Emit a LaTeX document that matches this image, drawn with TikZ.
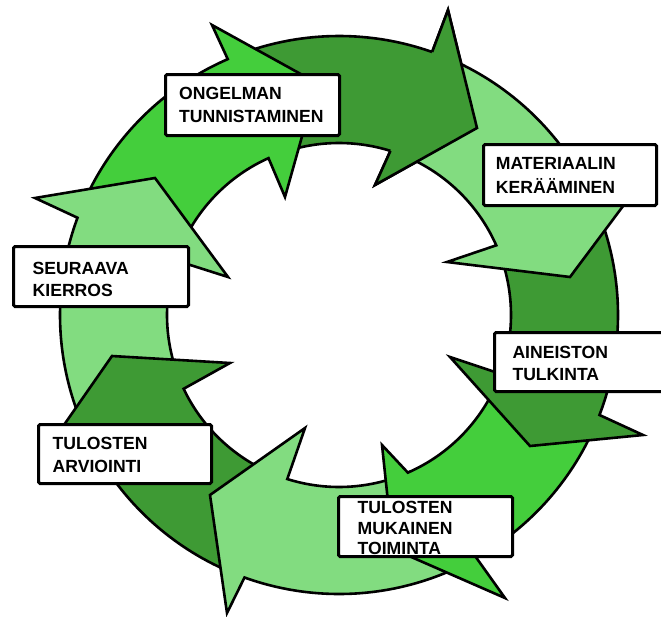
\documentclass[tikz,border=0pt]{standalone}
\usepackage{fontspec}
\setmainfont{Liberation Sans}
\usetikzlibrary{calc}
\definecolor{gbright}{RGB}{68,206,60}
\definecolor{gdark}{RGB}{62,154,52}
\definecolor{glight}{RGB}{130,220,128}
% #1 colour, #2 tail angle, #3 outer notch angle, #4 outer barb, #5 tip, #6 inner barb, #7 inner notch angle
\newcommand\ringarrow[7]{%
  \filldraw[arrowline, fill=#1] ($(C)+(#2:279)$) arc[start angle=#2, end angle=#3, radius=279]
    -- #4 -- #5 -- #6 -- ($(C)+(#7:172)$) arc[start angle=#7, end angle=#2, radius=172] -- cycle;}
\begin{document}
\begin{tikzpicture}[x=1pt,y=-1pt,
  arrowline/.style={draw=black, line width=2.6pt},
  box/.style={draw=black, fill=white, line width=3pt, rounded corners=1.5pt, anchor=north west, inner sep=0pt, outer sep=0pt},
  lbl/.style={anchor=north west, inner sep=0pt, align=left, text=black, font=\fontsize{17.6}{22.7}\selectfont\bfseries}]
\useasboundingbox (0,0) rectangle (661,616);
\fill[white] (0,0) rectangle (661,616);
\coordinate (C) at (339,315);
% arrows (each head lies over the tail of the next one clockwise)
\ringarrow{gdark}{250}{289.5}{(448,10)}{(477,128)}{(375,185)}{287.4}
\ringarrow{gbright}{203}{246.5}{(212,25)}{(317,83)}{(285,197)}{245.8}
\ringarrow{glight}{158}{200.4}{(35,198)}{(155,178)}{(228,277)}{198.5}
\ringarrow{gdark}{112}{151}{(50,445)}{(112,356)}{(230,363)}{154.6}
\ringarrow{glight}{66}{109.8}{(227,613)}{(210,495)}{(305,428)}{107.5}
\ringarrow{gbright}{24}{60.5}{(505,598)}{(393,549)}{(382,445)}{66.4}
\ringarrow{gdark}{339}{381}{(643,435)}{(530,446)}{(450,357)}{380}
\ringarrow{glight}{293}{333}{(650,170)}{(570,277)}{(447,262)}{336.1}
% head of the top dark arrow, over the tail of the light one
\fill[gdark] ($(C)+(289.5:279)$) -- (448,10) -- (477,128) -- (375,185) -- ($(C)+(287.4:172)$) -- cycle;
\draw[arrowline] ($(C)+(289.5:279)$) -- (448,10) -- (477,128) -- (375,185) -- ($(C)+(287.4:172)$);
% label boxes
\node[box, minimum width=174pt, minimum height=61pt] (b1) at (165.5,74.5) {};
\node[box, minimum width=173pt, minimum height=61pt] (b2) at (483.5,144.5) {};
\node[box, minimum width=200pt, minimum height=59pt] (b3) at (494.5,332.5) {};
\node[box, minimum width=174pt, minimum height=60pt] (b4) at (338.5,496.5) {};
\node[box, minimum width=173pt, minimum height=59pt] (b5) at (38.5,424.5) {};
\node[box, minimum width=175pt, minimum height=60pt] (b6) at (13.5,246.5) {};
% labels
\node[lbl] (t1) at (179,87.4) {ONGELMAN\\TUNNISTAMINEN};
\node[lbl, font=\fontsize{17.6}{23.3}\selectfont\bfseries] (t2) at (495.7,157.4) {MATERIAALIN\\KERÄÄMINEN};
\node[lbl, font=\fontsize{17.6}{22}\selectfont\bfseries] (t3) at (512.3,346.1) {AINEISTON\\TULKINTA};
\node[lbl, font=\fontsize{17.6}{20.5}\selectfont\bfseries] (t4) at (357.5,501.1) {TULOSTEN\\MUKAINEN\\TOIMINTA};
\node[lbl, font=\fontsize{17.6}{23.3}\selectfont\bfseries] (t5) at (52.5,437.1) {TULOSTEN\\ARVIOINTI};
\node[lbl, font=\fontsize{17.6}{21.7}\selectfont\bfseries] (t6) at (32.5,262.4) {SEURAAVA\\KIERROS};
\end{tikzpicture}
\end{document}
